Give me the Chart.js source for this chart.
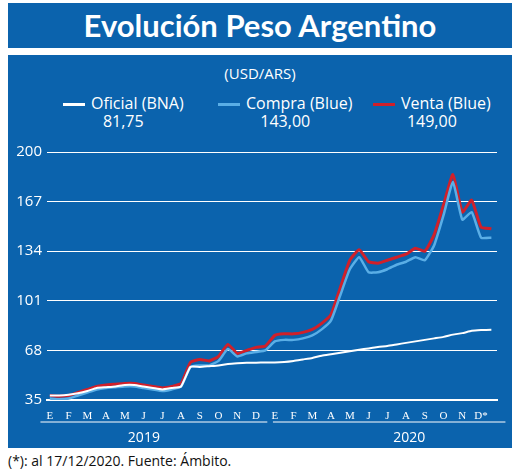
<!DOCTYPE html>
<html>
<head>
<meta charset="utf-8">
<script src="https://cdn.jsdelivr.net/npm/chart.js@4/dist/chart.umd.min.js"></script>
<style>
  body { margin: 0; width: 520px; height: 475px; background: #fff; position: relative; font-family: "Open Sans", sans-serif; }
  .title { position: absolute; left: 8px; top: 3px; width: 504px; height: 45px; background: #0b63ad; color: #fff;
           font: bold 31px "Lato", sans-serif; text-align: center; line-height: 45px; }
  .panel { position: absolute; left: 8px; top: 55px; width: 504px; height: 393px; background: #0b63ad; color: #fff; }
  .sub { position: absolute; top: 8px; width: 100%; text-align: center; font-size: 15px; }
  .leg { position: absolute; top: 39px; font-size: 16px; text-align: center; line-height: 18px; }
  .leg i { display: inline-block; width: 22px; height: 3px; vertical-align: middle; margin-right: 6px; }
  .foot { position: absolute; left: 8px; top: 451px; font-size: 14px; color: #111; }
  #wrap { position: absolute; left: 0; top: 83px; width: 504px; height: 310px; }
</style>
</head>
<body>
<div class="title">Evolución Peso Argentino</div>
<div class="panel">
  <div class="sub">(USD/ARS)</div>
  <div class="leg" style="left:55px"><i style="background:#fff"></i>Oficial (BNA)<br>81,75</div>
  <div class="leg" style="left:210px"><i style="background:#5aaee6"></i>Compra (Blue)<br>143,00</div>
  <div class="leg" style="left:365px"><i style="background:#d0202a"></i>Venta (Blue)<br>149,00</div>
  <div id="wrap"><canvas id="c"></canvas></div>
</div>
<div class="foot">(*): al 17/12/2020. Fuente: Ámbito.</div>
<script>
const months = ['E','F','M','A','M','J','J','A','S','O','N','D','E','F','M','A','M','J','J','A','S','O','N','D*'];
const years = ['2019', '2020'];
const yTicks = [35, 68, 101, 134, 167, 200];

const oficial = [38,38, 38.5,39.5, 41,43, 43.5,44, 45,45, 44,43, 42,43, 44,57, 57,57.5, 58,59, 59.5,59.8, 59.8,60,
                 60,60.3, 61,62, 63,64.5, 65.5,66.5, 67.5,68.5, 69.3,70.3, 71,72, 73,74, 75,76, 77,78.5, 79.5,81, 81.5,81.75];
const venta = [38,37.5, 38,40, 42,44, 45,45.5, 46,46, 45,44, 43,44, 46,60, 62,61, 64,72, 66,68, 70,71,
               78,79, 79,80, 82,86, 92,110, 128,135, 127,126, 128,130, 132,136, 134,145, 165,185, 160,168, 150,149];
const compra = [36,35.5, 36,38, 40,42, 43,43.5, 44,44, 43,42, 41,42, 44,57, 58,58, 61,69, 64,66, 67,68,
                74,75, 75,76, 78,82, 88,105, 122,130, 120,120, 122,125, 127,130, 128,138, 158,180, 155,160, 143,143];

function pts(arr) {
  return arr.map((v, i) => ({ x: i === arr.length - 1 ? 23.55 : i * 0.5, y: v }));
}

const yearLines = {
  id: 'yearLines',
  afterDraw(chart) {
    const ctx = chart.ctx, x = chart.scales.x, base = chart.chartArea.bottom;
    ctx.save();
    ctx.strokeStyle = '#fff';
    ctx.lineWidth = 1;
    ctx.fillStyle = '#fff';
    ctx.font = '14px "Open Sans"';
    ctx.textAlign = 'center';
    [[-0.5, 11.6], [11.9, 24.3]].forEach((r, i) => {
      const a = x.getPixelForValue(r[0]), b = x.getPixelForValue(r[1]);
      ctx.beginPath();
      ctx.moveTo(a, base + 22);
      ctx.lineTo(b, base + 22);
      ctx.stroke();
      ctx.fillText(years[i], (a + b) / 2 + (i ? 20 : -10), base + 42);
    });
    ctx.restore();
  }
};

new Chart(document.getElementById('c'), {
  type: 'line',
  data: {
    datasets: [
      { label: 'Oficial (BNA)', data: pts(oficial), borderColor: '#fff', borderWidth: 2 },
      { label: 'Compra (Blue)', data: pts(compra), borderColor: '#5aaee6', borderWidth: 2.5 },
      { label: 'Venta (Blue)', data: pts(venta), borderColor: '#d0202a', borderWidth: 3 }
    ].map(d => Object.assign(d, { pointRadius: 0, tension: 0.15, order: d.label === 'Venta (Blue)' ? 3 : 1 }))
  },
  plugins: [yearLines],
  options: {
    responsive: true,
    maintainAspectRatio: false,
    animation: false,
    layout: { padding: { right: 15, top: 8 } },
    plugins: { legend: { display: false }, tooltip: { enabled: false } },
    scales: {
      x: {
        type: 'linear', min: -0.15, max: 23.85,
        afterBuildTicks: s => { s.ticks = months.map((m, i) => ({ value: i })); },
        afterFit: s => { s.height = 48; },
        grid: { display: false },
        border: { color: '#fff', width: 2 },
        ticks: { color: '#fff', autoSkip: false, maxRotation: 0, padding: 2,
                 font: { family: 'Liberation Sans Narrow', size: 11 },
                 callback: (v, i) => months[i] }
      },
      y: {
        min: 35, max: 200,
        afterBuildTicks: s => { s.ticks = yTicks.map(v => ({ value: v })); },
        afterFit: s => { s.width = 39; },
        grid: { color: '#fff', lineWidth: 1, drawTicks: false },
        border: { display: false },
        ticks: { color: '#fff', padding: 5, font: { family: 'Open Sans', size: 15 } }
      }
    }
  }
});
</script>
</body>
</html>
